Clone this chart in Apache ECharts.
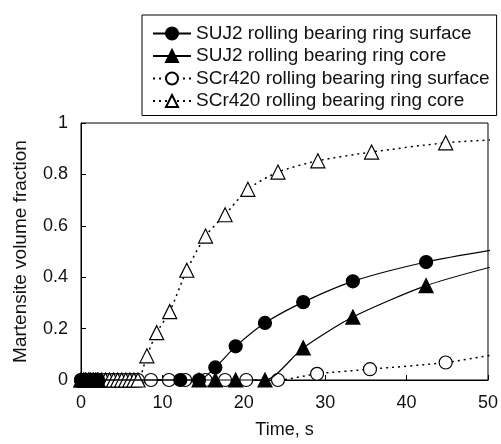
<!DOCTYPE html>
<html>
<head>
<meta charset="utf-8">
<script src="https://cdn.jsdelivr.net/npm/echarts@6/dist/echarts.min.js"></script>
<style>html,body{margin:0;padding:0;background:#fff}#c{width:501px;height:444px}</style>
</head>
<body>
<div id="c"></div>
<script>
const seriesNames = [
  'SUJ2 rolling bearing ring surface',
  'SUJ2 rolling bearing ring core',
  'SCr420 rolling bearing ring surface',
  'SCr420 rolling bearing ring core'
];
const xTicks = [0, 10, 20, 30, 40, 50];
const yTicks = [0, 0.2, 0.4, 0.6, 0.8, 1];

const suj2Surface = [[0,0],[0.3,0],[0.6,0],[0.9,0],[1.2,0],[1.5,0],[1.8,0],[2.1,0],[12.2,0],[14.5,0],[16.5,0.049],[19.0,0.131],[22.6,0.222],[27.3,0.303],[33.4,0.384],[42.4,0.459],[51,0.508]];
const suj2Core = [[0,0],[0.3,0],[0.6,0],[0.9,0],[1.2,0],[1.5,0],[1.8,0],[2.1,0],[14.5,0],[16.5,0],[19.0,0],[22.6,0],[27.3,0.125],[33.4,0.245],[42.4,0.367],[51,0.445]];
const scrSurface = [[0,0],[0.5,0],[1,0],[1.5,0],[2,0],[2.5,0],[3,0],[3.5,0],[4,0],[4.5,0],[5,0],[5.5,0],[6,0],[6.5,0],[7,0],[8.6,0],[10.8,0],[12.8,0],[15.3,0],[17.7,0],[20.3,0],[24.2,0],[29.0,0.024],[35.5,0.042],[44.8,0.068],[51,0.1]];
const scrCore = [[0,0],[0.5,0],[1,0],[1.5,0],[2,0],[2.5,0],[3,0],[3.5,0],[4,0],[4.5,0],[5,0],[5.5,0],[6,0],[6.5,0],[7,0],[8.1,0.094],[9.3,0.184],[10.9,0.266],[13.0,0.427],[15.3,0.56],[17.7,0.643],[20.5,0.742],[24.2,0.809],[29.1,0.853],[35.7,0.887],[44.8,0.923],[51,0.935]];

const font = 'Liberation Sans, Arial, sans-serif';
function prep(arr) {
  return arr.map((p, i) => i === arr.length - 1 ? {value: p, symbol: 'none'} : p);
}
function mk(name, data, symbol, filled, dotted, z) {
  return {
    name: name,
    type: 'line',
    z: z,
    data: prep(data),
    symbol: symbol,
    symbolSize: symbol === 'triangle' ? 14 : 13,
    smooth: 0.25,
    clip: false,
    showAllSymbol: true,
    itemStyle: {color: filled ? '#000' : '#fff', borderColor: '#000', borderWidth: 1.2},
    lineStyle: {color: '#000', width: dotted ? 1.5 : 1.2, type: dotted ? [2, 4] : 'solid'},
    emphasis: {disabled: true},
    animation: false
  };
}
const chart = echarts.init(document.getElementById('c'), null, {renderer: 'canvas'});
chart.setOption({
  animation: false,
  backgroundColor: '#fff',
  grid: {left: 81, right: 8, top: 123, bottom: 56, show: true, borderColor: '#000', borderWidth: 1},
  legend: {
    orient: 'vertical', left: 142, top: 15,
    padding: [9, 7, 5, 10],
    itemWidth: 38, itemHeight: 15, itemGap: 3.5,
    borderColor: '#000', borderWidth: 1,
    textStyle: {fontFamily: font, fontSize: 19, color: '#111'},
    data: seriesNames
  },
  xAxis: {
    type: 'value', min: xTicks[0], max: xTicks[xTicks.length - 1], interval: 10,
    name: 'Time, s', nameLocation: 'middle', nameGap: 41,
    nameTextStyle: {fontFamily: font, fontSize: 18, color: '#111'},
    axisLine: {lineStyle: {color: '#000', width: 1}},
    axisTick: {inside: true, length: 5, lineStyle: {color: '#000'}},
    axisLabel: {fontFamily: font, fontSize: 18, color: '#111', margin: 14},
    splitLine: {show: false}
  },
  yAxis: {
    type: 'value', min: yTicks[0], max: yTicks[yTicks.length - 1], interval: 0.2,
    name: 'Martensite volume fraction', nameLocation: 'middle', nameGap: 51,
    nameTextStyle: {fontFamily: font, fontSize: 19, color: '#111'},
    axisLine: {lineStyle: {color: '#000', width: 1}},
    axisTick: {inside: true, length: 5, lineStyle: {color: '#000'}},
    axisLabel: {fontFamily: font, fontSize: 18, color: '#111', margin: 13},
    splitLine: {show: false}
  },
  series: [
    mk(seriesNames[0], suj2Surface, 'circle', true, false, 4),
    mk(seriesNames[1], suj2Core, 'triangle', true, false, 4),
    mk(seriesNames[2], scrSurface, 'circle', false, true, 2),
    mk(seriesNames[3], scrCore, 'triangle', false, true, 2)
  ]
});
</script>
</body>
</html>
